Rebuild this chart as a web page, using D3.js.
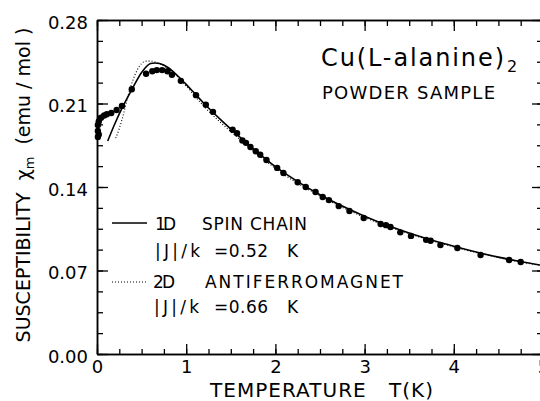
<!DOCTYPE html>
<html>
<head>
<meta charset="utf-8">
<script src="https://d3js.org/d3.v7.min.js"></script>
<style>
  body { margin: 0; background: #fff; }
  text { font-family: "DejaVu Sans", sans-serif; fill: #000; white-space: pre; }
</style>
</head>
<body>
<svg id="svg" width="540" height="401"></svg>
<script>
// measured points, powder sample
var tempK = [0.01, 0.01, 0.01, 0.02, 0.02, 0.045, 0.08, 0.11, 0.16, 0.22, 0.28, 0.39,
             0.55, 0.62, 0.67, 0.73, 0.79, 0.84, 0.94, 1.11, 1.22, 1.30, 1.52, 1.57,
             1.63, 1.67, 1.72, 1.78, 1.83, 1.90, 2.02, 2.09, 2.25, 2.34, 2.45, 2.53,
             2.60, 2.71, 2.83, 2.99, 3.18, 3.24, 3.29, 3.40, 3.52, 3.69, 3.74, 3.85,
             4.04, 4.30, 4.62, 4.75];
var chiMeas = [0.187, 0.182, 0.192, 0.184, 0.195, 0.198, 0.200, 0.201, 0.202, 0.2045, 0.208, 0.222,
               0.235, 0.237, 0.238, 0.238, 0.237, 0.234, 0.229, 0.217, 0.209, 0.203, 0.188, 0.185,
               0.179, 0.177, 0.1735, 0.170, 0.167, 0.1626, 0.156, 0.1517, 0.144, 0.140, 0.1358, 0.1316,
               0.129, 0.124, 0.1199, 0.114, 0.109, 0.108, 0.1065, 0.102, 0.099, 0.0957, 0.0950, 0.0914,
               0.0889, 0.083, 0.0788, 0.0771];

// 1D spin chain fit, |J|/k = 0.52 K
var chainT   = [0.12, 0.2, 0.3, 0.4, 0.5, 0.6, 0.65, 0.7, 0.8, 0.9, 1.0, 1.1, 1.2, 1.4, 1.6,
                1.8, 2.0, 2.25, 2.5, 2.75, 3.0, 3.25, 3.5, 3.75, 4.0, 4.25, 4.5, 4.75, 5.0];
var chainChi = [0.1785, 0.193, 0.209, 0.223, 0.236, 0.2435, 0.244, 0.2435, 0.240, 0.2335, 0.226, 0.218, 0.210, 0.1955, 0.182,
                0.169, 0.157, 0.1445, 0.1335, 0.124, 0.1155, 0.108, 0.1015, 0.0955, 0.0903, 0.0855, 0.0812, 0.0775, 0.0742];

// 2D antiferromagnet fit, |J|/k = 0.66 K
var afmT   = [0.21, 0.25, 0.3, 0.35, 0.4, 0.45, 0.5, 0.55, 0.6, 0.7, 0.8, 0.9, 1.0, 1.2, 1.4,
              1.6, 1.8, 2.0, 2.5, 3.0, 3.5, 4.0, 4.5, 5.0];
var afmChi = [0.181, 0.189, 0.202, 0.217, 0.229, 0.238, 0.2435, 0.2455, 0.2455, 0.2435, 0.2390, 0.2325, 0.2245, 0.2075, 0.1930,
              0.1800, 0.1675, 0.1555, 0.1325, 0.1145, 0.1008, 0.0898, 0.0808, 0.0738];

var xTicks = [0, 1, 2, 3, 4, 5];
var yTicks = [0.00, 0.07, 0.14, 0.21, 0.28];

window.onload = function() {

    var svg = d3.select("#svg");
    var font = "DejaVu Sans, sans-serif";

    var x = d3.scaleLinear().domain([0, 5]).range([97, 543]);
    var y = d3.scaleLinear().domain([0, 0.28]).range([354, 20]);

    var xMinor = d3.range(0, 5.001, 0.25);
    var yMinor = d3.range(0, 0.2801, 0.0175);

    function styleAxis(g, labels) {
        g.selectAll("path").attr("stroke", "#000").attr("stroke-width", 1.5);
        g.selectAll("line").attr("stroke", "#000").attr("stroke-width", 1.3);
        g.attr("font-family", font).attr("font-size", 18);
        if (!labels) g.selectAll("text").remove();
    }

    // minor ticks (all four sides, pointing in)
    svg.append("g").attr("transform", "translate(0,354)")
        .call(d3.axisBottom(x).tickValues(xMinor).tickSize(-5).tickSizeOuter(0).tickFormat(""))
        .call(styleAxis, false);
    svg.append("g").attr("transform", "translate(0,20)")
        .call(d3.axisTop(x).tickValues(xMinor).tickSize(-6).tickSizeOuter(0).tickFormat(""))
        .call(styleAxis, false);
    svg.append("g").attr("transform", "translate(97,0)")
        .call(d3.axisLeft(y).tickValues(yMinor).tickSize(-6).tickSizeOuter(0).tickFormat(""))
        .call(styleAxis, false);
    svg.append("g").attr("transform", "translate(543,0)")
        .call(d3.axisRight(y).tickValues(yMinor).tickSize(-6).tickSizeOuter(0).tickFormat(""))
        .call(styleAxis, false);

    // major ticks + labels
    svg.append("g").attr("transform", "translate(0,354)")
        .call(d3.axisBottom(x).tickValues(xTicks).tickSize(-10).tickSizeOuter(0).tickPadding(6).tickFormat(d3.format("d")))
        .call(styleAxis, true);
    svg.append("g").attr("transform", "translate(0,20)")
        .call(d3.axisTop(x).tickValues(xTicks).tickSize(-11).tickSizeOuter(0))
        .call(styleAxis, false);
    svg.append("g").attr("transform", "translate(97,0)")
        .call(d3.axisLeft(y).tickValues(yTicks).tickSize(-11).tickSizeOuter(0).tickPadding(9).tickFormat(d3.format(".2f")))
        .call(styleAxis, true)
        .selectAll("text").attr("dy", "0.45em");
    svg.append("g").attr("transform", "translate(543,0)")
        .call(d3.axisRight(y).tickValues(yTicks).tickSize(-11).tickSizeOuter(0))
        .call(styleAxis, false);

    // fitted curves
    var chainLine = d3.line()
        .x(function(d, i) { return x(chainT[i]); })
        .y(function(d) { return y(d); })
        .curve(d3.curveMonotoneX);
    svg.append("path").datum(chainChi)
        .attr("d", chainLine)
        .attr("fill", "none").attr("stroke", "#000").attr("stroke-width", 1.6);

    var afmLine = d3.line()
        .x(function(d, i) { return x(afmT[i]); })
        .y(function(d) { return y(d); })
        .curve(d3.curveMonotoneX);
    svg.append("path").datum(afmChi)
        .attr("d", afmLine)
        .attr("fill", "none").attr("stroke", "#000").attr("stroke-width", 1.1)
        .attr("stroke-dasharray", "1,2");

    // data points
    svg.selectAll("circle.pt").data(chiMeas).enter().append("circle")
        .attr("class", "pt")
        .attr("cx", function(d, i) { return x(tempK[i]); })
        .attr("cy", function(d) { return y(d); })
        .attr("r", 3.2)
        .attr("fill", "#000");

    // legend
    svg.append("line").attr("x1", 112).attr("x2", 147).attr("y1", 223).attr("y2", 223)
        .attr("stroke", "#000").attr("stroke-width", 1.6);
    svg.append("line").attr("x1", 112).attr("x2", 148).attr("y1", 282).attr("y2", 282)
        .attr("stroke", "#000").attr("stroke-width", 1.1).attr("stroke-dasharray", "1,2");

    // [text, x, baseline, width]
    var legendText = [
        ["1D", 155, 230, 21], ["SPIN CHAIN", 202, 230, 105],
        ["|J|/k", 155, 257, 45], ["=0.52", 214, 257, 54], ["K", 287, 257, 0],
        ["2D", 153, 288, 22], ["ANTIFERROMAGNET", 205, 288, 198],
        ["|J|/k", 154, 313, 45], ["=0.66", 214, 313, 54], ["K", 287, 313, 0]
    ];
    legendText.forEach(function(t) {
        var el = svg.append("text").attr("x", t[1]).attr("y", t[2])
            .attr("font-size", 17)
            .text(t[0]);
        if (t[3]) el.attr("textLength", t[3]).attr("lengthAdjust", "spacing");
    });

    // title
    svg.append("text").attr("x", 321).attr("y", 66).attr("font-size", 24)
        .attr("textLength", 183).attr("lengthAdjust", "spacing")
        .text("Cu(L-alanine)");
    svg.append("text").attr("x", 507).attr("y", 72).attr("font-size", 16).text("2");
    svg.append("text").attr("x", 322).attr("y", 99).attr("font-size", 18)
        .attr("textLength", 173).attr("lengthAdjust", "spacing")
        .text("POWDER SAMPLE");

    // axis titles
    svg.append("text").attr("x", 210).attr("y", 397).attr("font-size", 20)
        .attr("textLength", 223).attr("lengthAdjust", "spacing")
        .text("TEMPERATURE   T(K)");

    var yl = svg.append("text")
        .attr("transform", "translate(30,185) rotate(-90)")
        .attr("text-anchor", "middle")
        .attr("font-size", 19);
    yl.append("tspan").text("SUSCEPTIBILITY  χ");
    yl.append("tspan").attr("font-size", 13).attr("dy", 4).text("m");
    yl.append("tspan").attr("dy", -4).text("  (emu / mol )");
}
</script>
</body>
</html>
